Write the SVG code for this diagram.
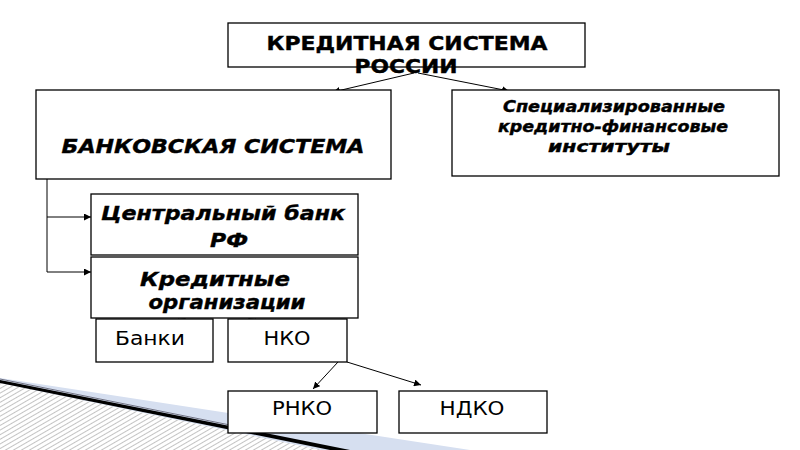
<svg xmlns="http://www.w3.org/2000/svg" width="800" height="450" viewBox="0 0 800 450">
<style>
.box{fill:#fff;stroke:#000;stroke-width:1.3}
.t{font-family:"DejaVu Sans",sans-serif;text-anchor:middle;fill:#000}
.b{font-weight:bold;stroke:#000;stroke-width:0.4}
.bi{font-weight:bold;font-style:italic;stroke:#000;stroke-width:0.4}
.ln{stroke:#000;stroke-width:1;fill:none}
</style>
<defs>
<marker id="ah" viewBox="0 0 10 10" refX="10" refY="5" markerWidth="7" markerHeight="7" markerUnits="userSpaceOnUse" orient="auto">
<path d="M0,0 L10,5 L0,10 z" fill="#000"/>
</marker>
<pattern id="hatch" width="4" height="4" patternUnits="userSpaceOnUse" patternTransform="rotate(60)">
<rect width="4" height="4" fill="#fff"/>
<line x1="0" y1="0" x2="0" y2="4" stroke="#9a9a9a" stroke-width="1.2"/>
</pattern>
</defs>
<rect width="800" height="450" fill="#fff"/>
<g id="decor">
<polygon points="0,378 470,450 0,450" fill="#d6dff0"/>
<polygon points="0,383 360,458 0,458" fill="url(#hatch)"/>
<polygon points="0,380 350,450 330,450 0,383" fill="#000"/>
<line x1="0" y1="379" x2="240" y2="427" stroke="#556" stroke-width="0.8"/>
</g>
<g id="connectors">
<line class="ln" x1="414" y1="73" x2="333" y2="92" marker-end="url(#ah)"/>
<line class="ln" x1="418" y1="73" x2="509" y2="91" marker-end="url(#ah)"/>
<polyline class="ln" points="47,179 47,272 91,272" marker-end="url(#ah)"/>
<polyline class="ln" points="47,217 91,217" marker-end="url(#ah)"/>
<line class="ln" x1="214" y1="304" x2="178" y2="318" marker-end="url(#ah)"/>
<line class="ln" x1="218" y1="304" x2="256" y2="318" marker-end="url(#ah)"/>
<line class="ln" x1="338" y1="362" x2="313" y2="389" marker-end="url(#ah)"/>
<line class="ln" x1="347" y1="362" x2="421" y2="385" marker-end="url(#ah)"/>
</g>
<g id="root">
<rect class="box" x="228" y="23" width="357" height="44"/>
<text class="t b" x="407" y="50" font-size="20" textLength="281" lengthAdjust="spacingAndGlyphs">КРЕДИТНАЯ СИСТЕМА</text>
<text class="t b" x="406" y="73" font-size="20" textLength="103" lengthAdjust="spacingAndGlyphs">РОССИИ</text>
</g>
<g id="bank-system">
<rect class="box" x="36" y="90" width="355" height="89"/>
<text class="t bi" x="213" y="153" font-size="20" textLength="303" lengthAdjust="spacingAndGlyphs">БАНКОВСКАЯ СИСТЕМА</text>
</g>
<g id="specialized">
<rect class="box" x="452" y="90" width="327" height="86"/>
<text class="t bi" x="614" y="112" font-size="15" textLength="222" lengthAdjust="spacingAndGlyphs">Специализированные</text>
<text class="t bi" x="613" y="132" font-size="15" textLength="230" lengthAdjust="spacingAndGlyphs">кредитно-финансовые</text>
<text class="t bi" x="609" y="152" font-size="15" textLength="122" lengthAdjust="spacingAndGlyphs">институты</text>
</g>
<g id="central-bank">
<rect class="box" x="91" y="194" width="267" height="61"/>
<text class="t bi" x="223" y="220" font-size="20" textLength="244" lengthAdjust="spacingAndGlyphs">Центральный банк</text>
<text class="t bi" x="229" y="247" font-size="20" textLength="38" lengthAdjust="spacingAndGlyphs">РФ</text>
</g>
<g id="credit-orgs">
<rect class="box" x="91" y="257" width="267" height="61"/>
<text class="t bi" x="215" y="286" font-size="20" textLength="150" lengthAdjust="spacingAndGlyphs">Кредитные</text>
<text class="t bi" x="227" y="309" font-size="20" textLength="157" lengthAdjust="spacingAndGlyphs">организации</text>
</g>
<g id="banks">
<rect class="box" x="96" y="319" width="117" height="43"/>
<text class="t" x="150" y="345" font-size="20" textLength="70" lengthAdjust="spacingAndGlyphs">Банки</text>
</g>
<g id="nko">
<rect class="box" x="228" y="319" width="119" height="43"/>
<text class="t" x="287" y="345" font-size="20" textLength="47" lengthAdjust="spacingAndGlyphs">НКО</text>
</g>
<g id="rnko">
<rect class="box" x="228" y="391" width="149" height="42"/>
<text class="t" x="302" y="415" font-size="19" textLength="60" lengthAdjust="spacingAndGlyphs">РНКО</text>
</g>
<g id="ndko">
<rect class="box" x="399" y="391" width="148" height="42"/>
<text class="t" x="472" y="415" font-size="19" textLength="65" lengthAdjust="spacingAndGlyphs">НДКО</text>
</g>
</svg>
